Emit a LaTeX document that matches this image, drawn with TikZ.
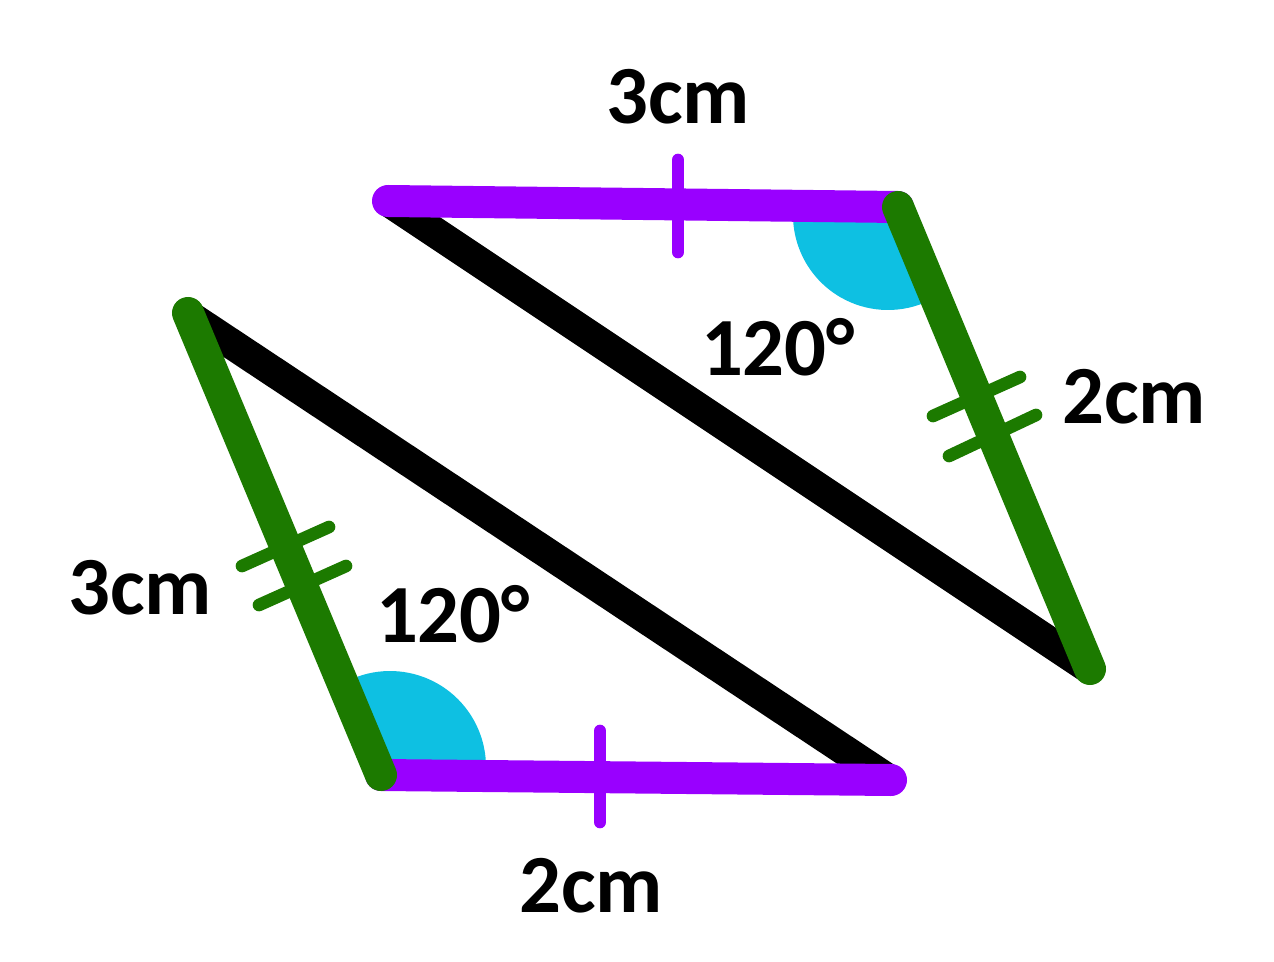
\documentclass[tikz,border=0pt]{standalone}
\usepackage{fontspec}
\setmainfont{Carlito}
\definecolor{vio}{RGB}{153,0,255}
\definecolor{grn}{RGB}{28,122,0}
\definecolor{cyn}{RGB}{14,192,226}
\tikzset{
 px/.style={x=0.75pt,y=-0.75pt},
 sidev/.style={line width=24pt,line cap=round},
 sideg/.style={line width=24pt,line cap=round},
 diag/.style={line width=23pt,black},
 tick/.style={line width=9.5pt,line cap=round},
 lab/.style={font=\fontsize{62}{62}\selectfont\bfseries,text=black,inner sep=0pt,anchor=center},
}
\begin{document}
\begin{tikzpicture}[px]
\useasboundingbox (0,0) rectangle (1274,962);
\coordinate (A) at (388,201);
\coordinate (B) at (898,207);
\coordinate (C) at (1090,669);
\coordinate (D) at (188,313);
\coordinate (Dd) at (188,315);
\coordinate (E) at (381,775);
\coordinate (F) at (891,780);
\coordinate (Fd) at (891,781);
\coordinate (s1) at (888,215);
\coordinate (s2) at (390,767);
\fill[cyn] (s1) -- ++(180:95) arc[start angle=180,end angle=68,radius=95] -- cycle;
\fill[cyn] (s2) -- ++(0:96) arc[start angle=0,end angle=-110,radius=96] -- cycle;
\draw[diag] (A) -- (C);
\draw[diag] (Dd) -- (Fd);
\coordinate (t1a) at (678,160); \coordinate (t1b) at (678,252);
\coordinate (t5a) at (600,731); \coordinate (t5b) at (600,822);
\draw[tick,vio] (t1a) -- (t1b);
\draw[tick,vio] (t5a) -- (t5b);
\coordinate (g1a) at (1020,377); \coordinate (g1b) at (933,416);
\coordinate (g2a) at (1036,415); \coordinate (g2b) at (949,456);
\draw[tick,grn] (g1a) -- (g1b);
\draw[tick,grn] (g2a) -- (g2b);
\coordinate (g3a) at (329,527); \coordinate (g3b) at (242,566);
\coordinate (g4a) at (346,566); \coordinate (g4b) at (259,605);
\draw[tick,grn] (g3a) -- (g3b);
\draw[tick,grn] (g4a) -- (g4b);
\draw[sidev,vio] (A) -- (B);
\draw[sidev,vio] (E) -- (F);
\draw[sideg,grn] (B) -- (C);
\draw[sideg,grn] (D) -- (E);
\node[lab] (l1) at (678,97) {3cm};
\node[lab] (l2) at (1134,397) {2cm};
\node[lab] (l3) at (140,588) {3cm};
\node[lab] (l4) at (591,886) {2cm};
\node[lab] (l5) at (778,347) {120°};
\node[lab] (l6) at (453,614) {120°};
\end{tikzpicture}
\end{document}
